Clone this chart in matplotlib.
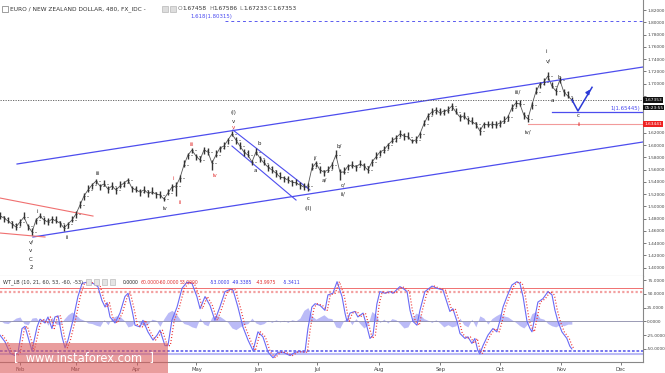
import numpy as np
import matplotlib
matplotlib.use("Agg")
import matplotlib.pyplot as plt
from matplotlib.patches import Rectangle

# EUR/NZD bars (one bar per ~2 days)
bar_high = [
    1.4902, 1.4850, 1.4831, 1.4762, 1.4723, 1.4794, 1.4906, 1.4719, 1.4641, 1.4817,
    1.4890, 1.4827, 1.4804, 1.4843, 1.4841, 1.4768, 1.4707, 1.4752, 1.4847, 1.4925,
    1.5082, 1.5219, 1.5347, 1.5388, 1.5450, 1.5372, 1.5434, 1.5333, 1.5392, 1.5317,
    1.5412, 1.5421, 1.5470, 1.5339, 1.5337, 1.5284, 1.5327, 1.5268, 1.5314, 1.5241,
    1.5245, 1.5160, 1.5288, 1.5365, 1.5392, 1.5512, 1.5754, 1.5877, 1.5960, 1.5861,
    1.5826, 1.5969, 1.5946, 1.5757, 1.5917, 1.5992, 1.6044, 1.6122, 1.6229, 1.6132,
    1.6044, 1.5936, 1.5917, 1.5763, 1.5946, 1.5829, 1.5777, 1.5692, 1.5653, 1.5594,
    1.5559, 1.5502, 1.5490, 1.5437, 1.5451, 1.5398, 1.5375, 1.5382, 1.5705, 1.5747,
    1.5653, 1.5600, 1.5663, 1.5724, 1.5919, 1.5610, 1.5640, 1.5698, 1.5734, 1.5682,
    1.5761, 1.5708, 1.5653, 1.5773, 1.5885, 1.5926, 1.5979, 1.6041, 1.6136, 1.6165,
    1.6240, 1.6197, 1.6211, 1.6106, 1.6142, 1.6220, 1.6413, 1.6524, 1.6599, 1.6622,
    1.6603, 1.6595, 1.6632, 1.6686, 1.6609, 1.6507, 1.6534, 1.6458, 1.6456, 1.6383,
    1.6289, 1.6383, 1.6397, 1.6393, 1.6387, 1.6410, 1.6472, 1.6497, 1.6664, 1.6735,
    1.6739, 1.6540, 1.6485, 1.6703, 1.6945, 1.7036, 1.7088, 1.7191, 1.7033, 1.6932,
    1.7110, 1.6915, 1.6880, 1.6790,
]
bar_low = [
    1.4792, 1.4740, 1.4721, 1.4652, 1.4613, 1.4674, 1.4786, 1.4619, 1.4533, 1.4707,
    1.4802, 1.4717, 1.4694, 1.4723, 1.4721, 1.4668, 1.4600, 1.4642, 1.4737, 1.4815,
    1.4972, 1.5099, 1.5227, 1.5288, 1.5363, 1.5262, 1.5324, 1.5223, 1.5282, 1.5197,
    1.5292, 1.5321, 1.5380, 1.5229, 1.5227, 1.5174, 1.5217, 1.5148, 1.5194, 1.5141,
    1.5135, 1.5090, 1.5178, 1.5255, 1.5169, 1.5392, 1.5634, 1.5777, 1.5869, 1.5751,
    1.5716, 1.5859, 1.5836, 1.5593, 1.5797, 1.5892, 1.5934, 1.6012, 1.6140, 1.6022,
    1.5934, 1.5816, 1.5797, 1.5674, 1.5836, 1.5719, 1.5667, 1.5582, 1.5543, 1.5474,
    1.5439, 1.5402, 1.5380, 1.5327, 1.5341, 1.5288, 1.5265, 1.5250, 1.5585, 1.5647,
    1.5543, 1.5490, 1.5553, 1.5614, 1.5787, 1.5430, 1.5520, 1.5598, 1.5624, 1.5572,
    1.5651, 1.5598, 1.5544, 1.5653, 1.5765, 1.5826, 1.5869, 1.5931, 1.6026, 1.6055,
    1.6130, 1.6077, 1.6091, 1.6034, 1.6032, 1.6110, 1.6303, 1.6414, 1.6489, 1.6502,
    1.6483, 1.6495, 1.6522, 1.6567, 1.6499, 1.6397, 1.6424, 1.6338, 1.6336, 1.6283,
    1.6164, 1.6273, 1.6287, 1.6283, 1.6277, 1.6290, 1.6352, 1.6397, 1.6554, 1.6616,
    1.6629, 1.6430, 1.6376, 1.6583, 1.6825, 1.6936, 1.6978, 1.7056, 1.6923, 1.6822,
    1.7011, 1.6795, 1.6760, 1.6700,
]
bar_close = [
    1.4842, 1.4810, 1.4761, 1.4712, 1.4663, 1.4744, 1.4826, 1.4679, 1.4581, 1.4777,
    1.4842, 1.4777, 1.4744, 1.4793, 1.4761, 1.4728, 1.4647, 1.4712, 1.4777, 1.4875,
    1.5022, 1.5169, 1.5267, 1.5348, 1.5413, 1.5332, 1.5364, 1.5283, 1.5332, 1.5267,
    1.5332, 1.5381, 1.5430, 1.5299, 1.5267, 1.5234, 1.5267, 1.5218, 1.5234, 1.5201,
    1.5185, 1.5120, 1.5218, 1.5315, 1.5332, 1.5462, 1.5674, 1.5837, 1.5919, 1.5821,
    1.5756, 1.5919, 1.5886, 1.5707, 1.5837, 1.5952, 1.5984, 1.6082, 1.6180, 1.6082,
    1.5984, 1.5886, 1.5837, 1.5723, 1.5886, 1.5789, 1.5707, 1.5642, 1.5593, 1.5544,
    1.5479, 1.5462, 1.5430, 1.5397, 1.5381, 1.5348, 1.5315, 1.5332, 1.5625, 1.5707,
    1.5593, 1.5560, 1.5593, 1.5674, 1.5837, 1.5560, 1.5560, 1.5658, 1.5674, 1.5642,
    1.5691, 1.5658, 1.5593, 1.5723, 1.5805, 1.5886, 1.5919, 1.6001, 1.6066, 1.6115,
    1.6180, 1.6147, 1.6131, 1.6066, 1.6082, 1.6180, 1.6343, 1.6474, 1.6539, 1.6572,
    1.6523, 1.6555, 1.6572, 1.6637, 1.6539, 1.6457, 1.6474, 1.6408, 1.6376, 1.6343,
    1.6229, 1.6343, 1.6327, 1.6343, 1.6327, 1.6360, 1.6392, 1.6457, 1.6604, 1.6686,
    1.6669, 1.6490, 1.6425, 1.6653, 1.6865, 1.6996, 1.7028, 1.7126, 1.6963, 1.6882,
    1.7061, 1.6865, 1.6800, 1.6735,
]
# day of year (Jan 1 = 0) of each bar
bar_day = np.linspace(20.9, 309.3, len(bar_close))

# WaveTrend oscillator (WT_LB): main line
wt_day = [
    20.9, 23.4, 26.0, 28.5, 30.0, 32.0, 33.5, 35.0, 37.0, 39.6, 41.1, 43.6, 45.1, 47.1,
    48.6, 50.2, 52.2, 53.7, 55.2, 57.7, 60.2, 62.3, 64.8, 67.8, 70.3, 72.3, 73.9, 74.9,
    76.4, 78.9, 81.4, 83.9, 85.5, 87.5, 89.0, 91.5, 93.0, 95.5, 98.1, 100.1, 101.6,
    104.1, 105.6, 107.6, 110.2, 112.7, 115.2, 117.7, 120.2, 121.8, 124.3, 126.8, 129.3,
    131.8, 134.4, 136.9, 138.4, 140.9, 143.4, 146.0, 148.5, 151.0, 153.5, 156.1, 158.6,
    161.1, 163.6, 167.2, 169.7, 172.2, 174.7, 176.2, 178.2, 179.8, 182.3, 184.8, 186.3,
    188.8, 190.9, 193.4, 194.9, 195.9, 197.4, 199.9, 201.4, 204.0, 206.0, 207.5, 209.0,
    211.0, 212.5, 215.1, 217.6, 219.1, 222.6, 224.1, 226.2, 227.7, 229.2, 231.2, 232.7,
    235.2, 238.8, 241.3, 244.3, 246.3, 247.8, 249.3, 251.4, 252.9, 255.4, 256.9, 258.9,
    260.4, 261.9, 262.9, 264.5, 267.0, 269.5, 271.5, 273.1, 274.6, 276.6, 279.1, 281.6,
    283.1, 284.7, 286.7, 288.2, 289.2, 290.7, 292.2, 294.7, 297.3, 299.3, 300.8, 302.3,
    304.3, 306.8, 308.3, 309.3,
]
wt1 = [
    -25, -37, -58, -62, -56, -13, -9, -28, -53, -10, 4, -3, 8, -13,
    8, 10, -28, -48, -34, 2, 45, 69, 71, 69, 63, 38, 26, 34,
    8, -3, 15, 45, 51, 20, -7, -10, 2, -19, -34, -25, -16,
    -44, -44, 2, 26, 60, 71, 69, 45, 23, 45, 29, 2,
    26, 54, 58, 57, 26, -10, -34, -53, -19, -28, -56, -66,
    -56, -56, -62, -56, -55, -56, -13, 26, 32, 29, 20, 48,
    51, 72, 45, 15, 0, 15, 18, 8, 15, -10, -31, -25,
    32, 54, 51, 54, 51, 63, 60, 54, 20, 0, -7, 20,
    54, 64, 60, 57, 35, 18, 23, 0, -22, -31, -28, -40,
    -31, -53, -59, -44, -25, -13, -19, 2, 26, 45, 66, 72,
    69, 45, 0, -13, -19, 8, 35, 41, 54, 48, 20, 0,
    -19, -31, -45, -50,
]
# WT1 - WT2 histogram, one value per price bar
wt_hist = [
    2, -3, -4, 1, 6, 8, -4, -6, 6, 7, -2, 6, -7, 8, -5, -6, 4, 12, 17, 12,
    5, 2, -3, -4, -7, -9, 3, -6, 6, 10, 9, 2, -10, -8, 3, -4, -8, -5, 4, 2,
    -9, 5, 16, 20, 14, 4, -4, -6, -10, -12, 6, -5, -8, 8, 11, 9, 4, -2, -12, -15,
    -10, -6, -4, 6, -3, -6, -4, 2, -2, 3, -1, 2, -2, 3, 1, 6, 20, 25, 10, 4,
    8, 12, 6, 5, -10, -12, 2, 6, -6, 5, -4, -12, -6, 18, 12, -2, 4, -3, 5, 3,
    -4, -12, -10, 4, 15, 12, 5, 2, -2, 3, -3, -10, -6, -10, -8, 6, -6, -10, 4, -10,
    10, 6, -5, 5, 10, 14, 10, 8, 3, -2, -8, -12, -4, 14, 18, 6, 4, -4, -8, -10,
    -6, -8, -5, -5,
]
wt_levels = [60, 53, -53, -60]

# projected path drawn by the analyst
proj_day = [309.4, 312.4, 319.5]
proj_price = [1.6735, 1.6555, 1.6942]

last_close = 1.67353
target_1 = 1.65445
stop_level = 1.63441
fib_1618 = 1.80315

month_day = [31, 59, 90, 120, 151, 181, 212, 243, 273, 304, 334]
month_names = ["Feb", "Mar", "Apr", "May", "Jun", "Jul", "Aug", "Sep", "Oct", "Nov", "Dec"]

W, H = 665, 373
fig = plt.figure(figsize=(W / 100, H / 100), dpi=100)
fig.patch.set_facecolor("white")

def fx(px):
    return px / W

def fy(py):
    return 1 - py / H

ax = fig.add_axes([0, fy(276), fx(643), fy(0) - fy(276)])
ax2 = fig.add_axes([0, fy(362), fx(643), fy(276) - fy(362)], sharex=ax)

XMIN, XMAX = 20.9, 345.2
ax.set_xlim(XMIN, XMAX)
ax.set_ylim(1.3864, 1.8366)
ax2.set_ylim(-73.7, 82.3)

dark = "#333333"
blue = "#4d4dee"

# --- price bars ---
bar_open = [bar_close[0]] + bar_close[:-1]
ax.plot(bar_day, bar_close, color="#555555", lw=0.6, zorder=2)
ax.vlines(bar_day, bar_low, bar_high, color=dark, lw=1.0, zorder=3)
ax.hlines(bar_open, bar_day - 0.6, bar_day, color=dark, lw=0.6, zorder=3)
ax.hlines(bar_close, bar_day, bar_day + 0.6, color=dark, lw=0.6, zorder=3)

# --- channels and levels ---
ax.plot([29.5, 345.2], [1.5691, 1.7273], color=blue, lw=0.9)
ax.plot([37.5, 345.2], [1.4500, 1.6050], color=blue, lw=0.9)
ax.plot([138.4, 177.2], [1.6245, 1.5267], color=blue, lw=0.8)
ax.plot([137.9, 170.2], [1.5984, 1.5103], color=blue, lw=0.8)
ax.plot([20.9, 67.8], [1.5136, 1.4842], color="#f07070", lw=0.8)
ax.plot([20.9, 43.6], [1.4565, 1.4500], color="#f07070", lw=0.8)

ax.axhline(last_close, color="#555555", lw=0.6, ls=(0, (1.5, 1.5)), zorder=2)
ax.plot([134.4, XMAX], [fib_1618, fib_1618], color="#5a5af0", lw=0.7, ls=(0, (3, 3)))
ax.text(116.7, fib_1618 + 0.003, "1.618(1.80315)", color="#4a4af0", fontsize=3.9,
        ha="left", va="bottom")
ax.plot([299.3, XMAX], [target_1, target_1], color=blue, lw=0.9)
ax.text(344, target_1 + 0.0015, "1(1.65445)", color="#4a4af0", fontsize=3.9,
        ha="right", va="bottom")
ax.plot([287.2, XMAX], [stop_level, stop_level], color="#f29a9a", lw=0.8)

ax.plot(proj_day, proj_price, color="#2d3bd8", lw=1.1, zorder=4)
ax.annotate("", xy=(proj_day[-1], proj_price[-1]),
            xytext=(proj_day[-1] - 2.2, proj_price[-1] - 0.0095),
            arrowprops=dict(arrowstyle="-|>", color="#2d3bd8", lw=1.1,
                            mutation_scale=6), zorder=4)

# --- wave labels ---
labels = [
    ("v/", 36.5, 1.4418, "k"), ("v", 36.5, 1.4288, "k"), ("C", 36.5, 1.4141, "k"),
    ("2", 36.5, 1.4010, "k"), ("i", 39.6, 1.4924, "k"), ("ii", 54.7, 1.4484, "k"),
    ("iii", 70.3, 1.5544, "k"), ("iv", 104.1, 1.4973, "k"),
    ("i", 108.1, 1.5462, "r"), ("ii", 111.7, 1.5071, "r"), ("iii", 117.7, 1.6017, "r"),
    ("iv", 129.3, 1.5511, "r"), ("(I)", 138.4, 1.6539, "k"), ("v", 138.4, 1.6392, "k"),
    ("v", 138.4, 1.6294, "r"), ("b", 151.5, 1.6033, "k"), ("a", 149.5, 1.5593, "k"),
    ("c", 176.2, 1.5120, "k"), ("(II)", 176.2, 1.4973, "k"), ("i/", 179.8, 1.5789, "k"),
    ("a/", 184.3, 1.5430, "k"), ("b/", 191.9, 1.5984, "k"), ("c/", 193.9, 1.5348, "k"),
    ("ii/", 193.9, 1.5201, "k"), ("iii/", 282.1, 1.6865, "k"), ("iv/", 287.2, 1.6213, "k"),
    ("i", 296.2, 1.7534, "k"), ("v/", 297.3, 1.7371, "k"), ("b", 302.8, 1.7110, "k"),
    ("a", 299.3, 1.6719, "k"), ("c", 312.4, 1.6490, "k"), ("ii", 312.9, 1.6343, "r"),
]
for txt, d, p, c in labels:
    ax.text(d, p, txt, fontsize=4.0, ha="center", va="center",
            color="#222222" if c == "k" else "#e23030", zorder=5)

# --- price axis on the right ---
ax.yaxis.tick_right()
price_ticks = np.round(np.arange(1.40, 1.8201, 0.02), 2)
hidden = {1.68, 1.66, 1.64}  # covered by the price / time / stop boxes
ax.set_yticks(price_ticks)
ax.set_yticklabels(["" if v in hidden else f"{v:.5f}" for v in price_ticks])
ax.tick_params(axis="y", labelsize=3.1, length=2, width=0.5, pad=1.0,
               colors="#444444")
ax.tick_params(axis="x", bottom=False, labelbottom=False)
for s in ["left", "top"]:
    ax.spines[s].set_visible(False)
ax.spines["right"].set_color("#888888")
ax.spines["right"].set_linewidth(0.8)
ax.spines["bottom"].set_color("#aaaaaa")
ax.spines["bottom"].set_linewidth(0.8)

box_tr = ax.get_yaxis_transform()
for val, txt, fc in [(last_close, f"{last_close:.5f}", "#111111"),
                     (1.6612, "05:23:55", "#111111"),
                     (stop_level, f"{stop_level:.5f}", "#ee2222")]:
    ax.text(1.002, val, txt, transform=box_tr, fontsize=3.1,
            color="white", ha="left", va="center", zorder=6, clip_on=False,
            bbox=dict(boxstyle="square,pad=0.2", fc=fc, ec="none"))

# --- oscillator panel ---
ax2.fill_between(bar_day, 0, wt_hist, color="#a5a5f5", lw=0, alpha=0.75)
ax2.axhline(0, color="#8a8aa8", lw=0.6)
ax2.axhline(wt_levels[0], color="#f07070", lw=0.7)
ax2.axhline(wt_levels[1], color="#f3a0a0", lw=1.6, ls=(0, (1, 1)))
ax2.axhline(wt_levels[2], color="#6b6bee", lw=1.3, ls=(0, (1.5, 1)))
ax2.axhline(wt_levels[3], color="#babaf5", lw=1.5)
ax2.plot(wt_day, wt1, color="#6a6af5", lw=0.8, zorder=3)
ax2.plot(np.array(wt_day) + 1.2, wt1, color="#ee3333", lw=0.9,
         ls=(0, (0.8, 1.6)), zorder=4)

ax2.yaxis.tick_right()
ax2.set_yticks([75, 50, 25, 0, -25, -50])
ax2.set_yticklabels(["75.0000", "50.0000", "25.0000", "0.0000", "-25.0000", "-50.0000"])
ax2.tick_params(axis="y", labelsize=3.1, length=2, width=0.5, pad=1.0, colors="#444444")
ax2.set_xticks(month_day)
ax2.set_xticklabels(month_names)
ax2.tick_params(axis="x", labelsize=3.8, length=2, width=0.5, pad=1.5, colors="#444444")
for s in ["left", "top"]:
    ax2.spines[s].set_visible(False)
for s in ["right", "bottom"]:
    ax2.spines[s].set_color("#888888")
    ax2.spines[s].set_linewidth(0.8)

# --- header texts ---
fig.patches.append(Rectangle((fx(2), fy(12)), fx(6), fy(6) - fy(12), transform=fig.transFigure,
                             fill=False, ec="#777777", lw=0.5))
fig.text(fx(10), fy(9), "EURO / NEW ZEALAND DOLLAR, 480, FX_IDC -", fontsize=4.2,
         color="#333333", va="center")
for px in (162, 170):
    fig.patches.append(Rectangle((fx(px), fy(12)), fx(6), fy(6) - fy(12),
                                 transform=fig.transFigure, fc="#dddddd", ec="#aaaaaa", lw=0.4))
for px, lab, val in [(178, "O", "1.67458"), (209, "H", "1.67586"), (239, "L", "1.67233"),
                     (268, "C", "1.67353")]:
    fig.text(fx(px), fy(9), lab, fontsize=4.2, color="#777777", va="center")
    fig.text(fx(px + 4), fy(9), val, fontsize=4.2, color="#333333", va="center")

fig.text(fx(3), fy(282), "WT_LB (10, 21, 60, 53, -60, -53)", fontsize=3.6,
         color="#333333", va="center")
for px in (86, 94, 102, 110):
    fig.patches.append(Rectangle((fx(px), fy(285)), fx(5), fy(279) - fy(285),
                                 transform=fig.transFigure, fc="#e4e4e4", ec="#b0b0b0", lw=0.4))
for px, txt, c in [(123, "0.0000", "#222222"), (141, "60.0000", "#e03030"),
                   (159, "-60.0000", "#e03030"), (180, "53.0000", "#e03030"),
                   (210, "-53.0000", "#3a3ae8"), (232, "-49.3385", "#3a3ae8"),
                   (256, "-43.9975", "#e03030"), (283, "-5.3411", "#3a3ae8")]:
    fig.text(fx(px), fy(282), txt, fontsize=3.3, color=c, va="center")

# watermark
fig.patches.append(Rectangle((0, 0), fx(168), fy(343), transform=fig.transFigure,
                             fc=(0.86, 0.36, 0.36, 0.6), ec="none", zorder=10))
fig.text(fx(84), fy(358), "[  www.instaforex.com  ]", fontsize=8.3, color="white",
         ha="center", va="center", zorder=11)

fig.savefig("out.png", dpi=100)
